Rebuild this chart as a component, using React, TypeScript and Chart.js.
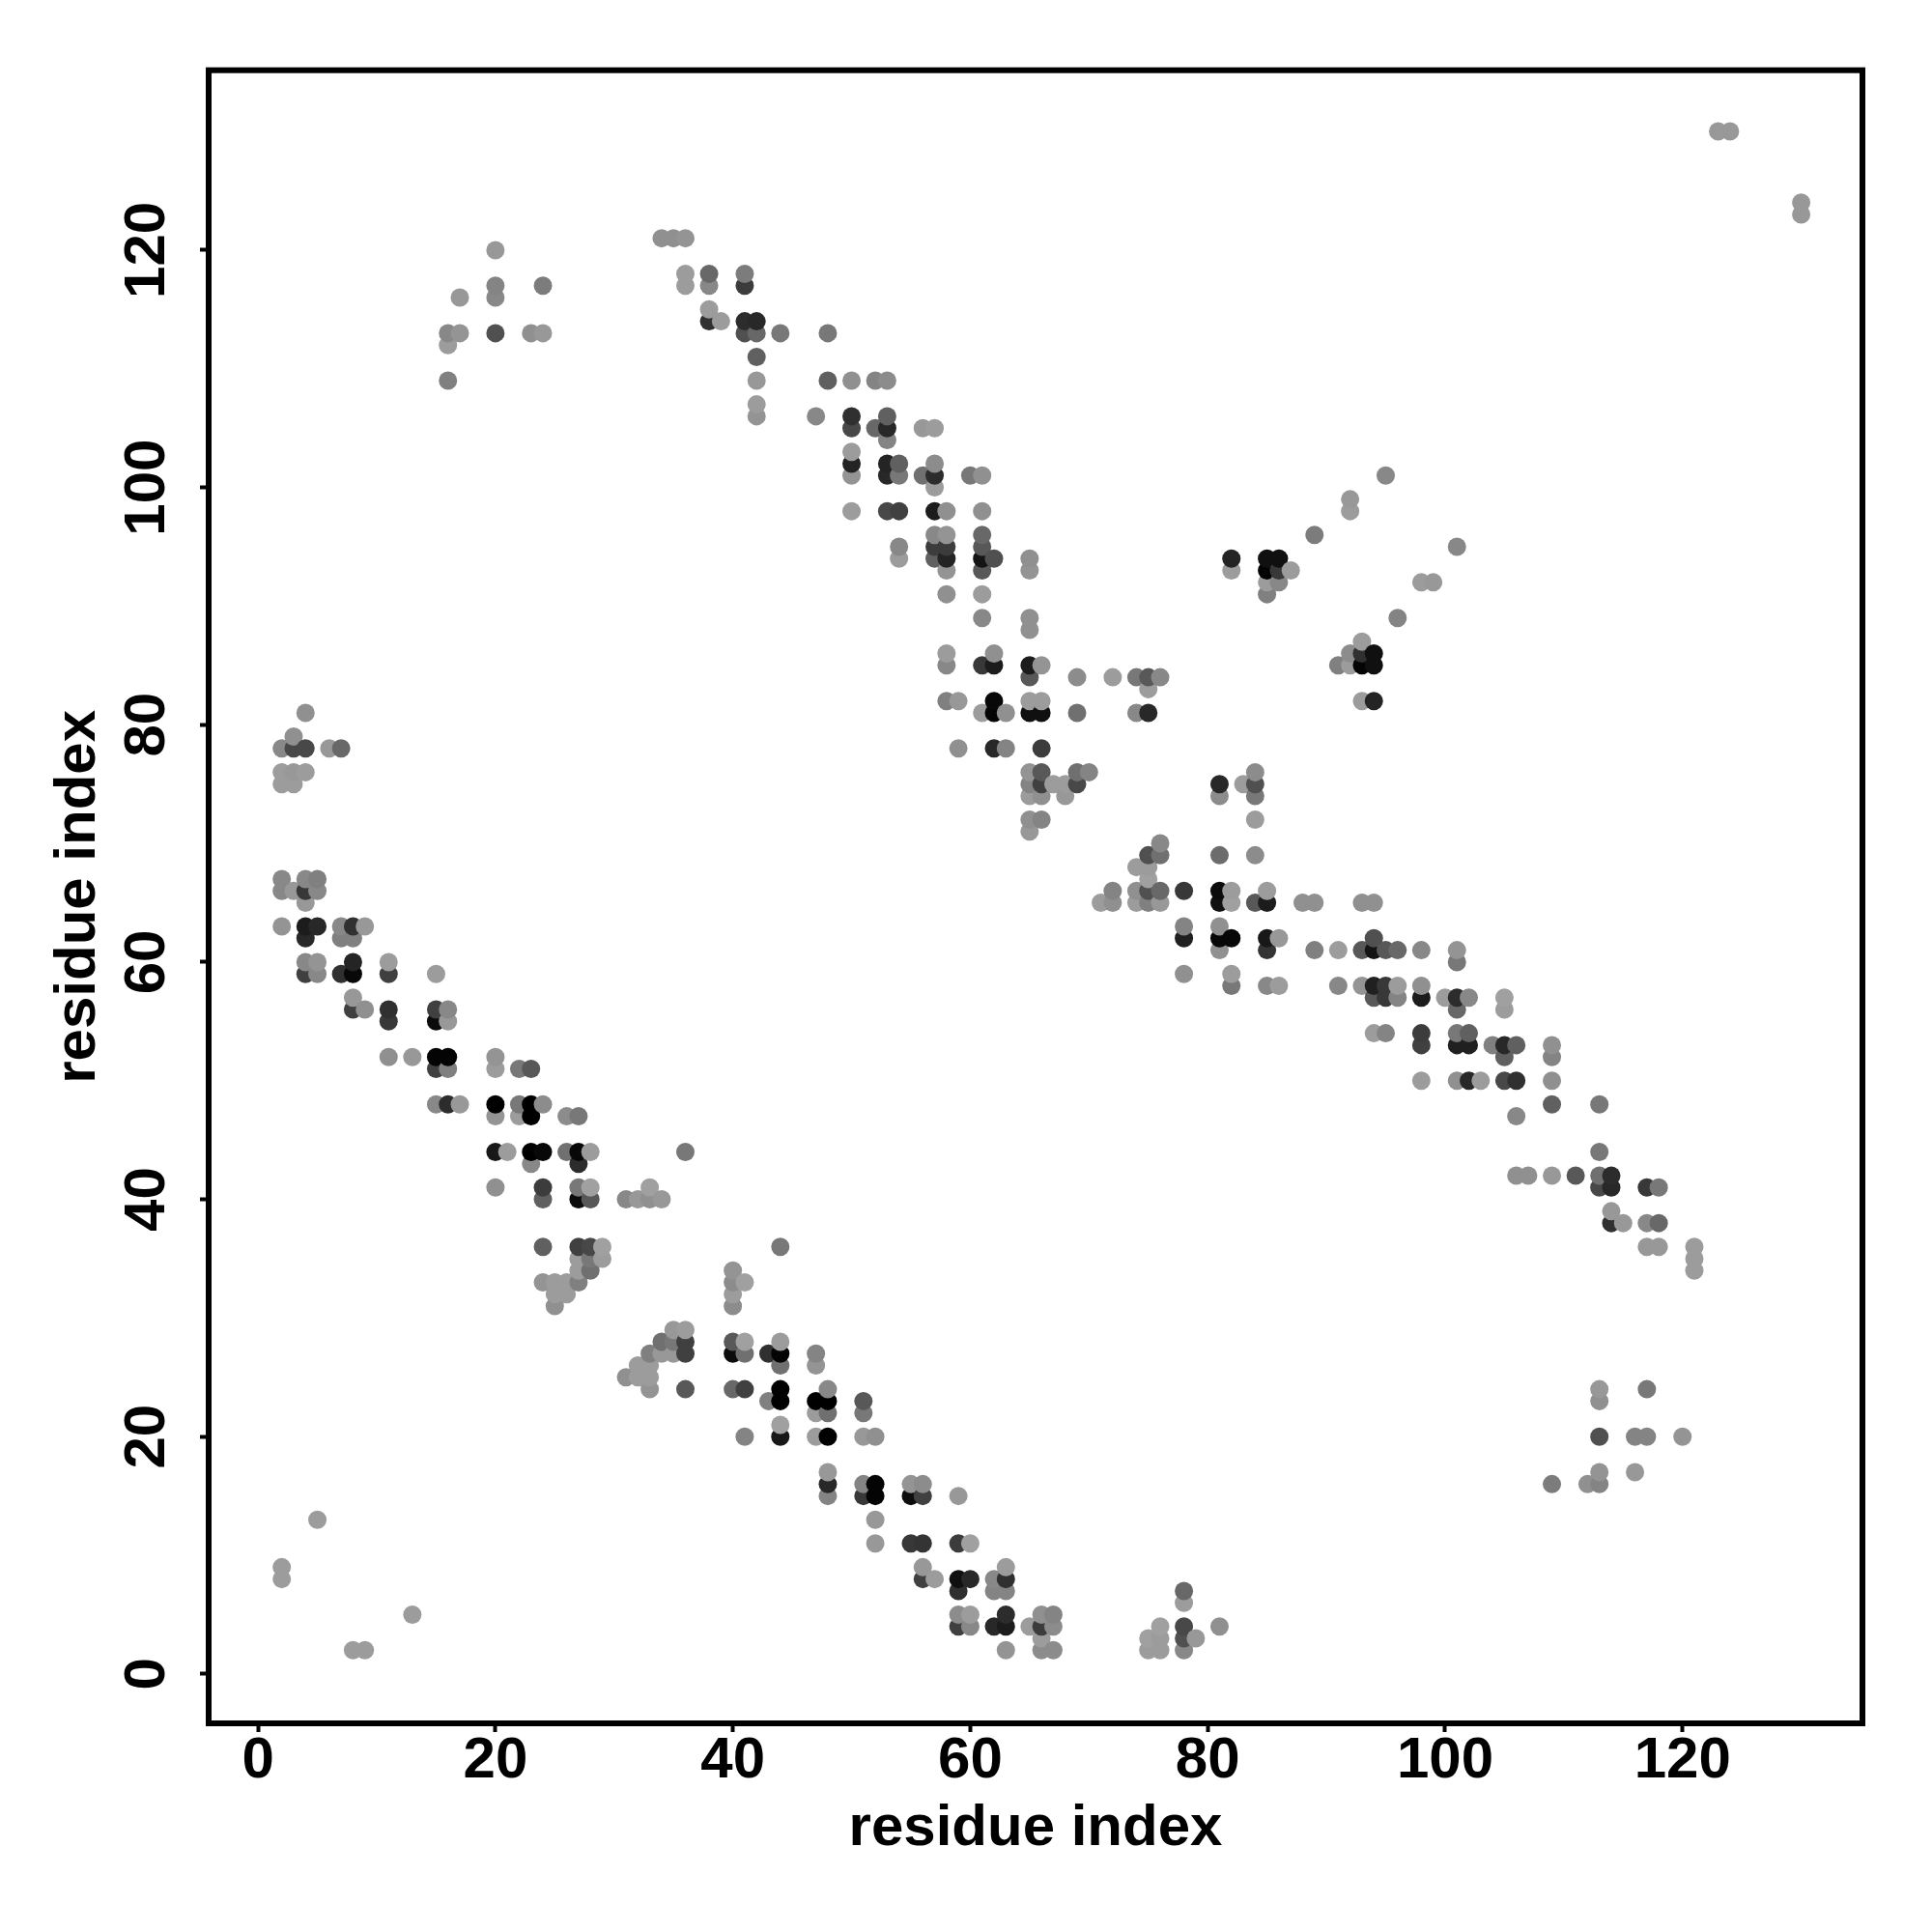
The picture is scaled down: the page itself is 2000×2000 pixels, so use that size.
import React, { useEffect, useRef } from "react";
import { Chart, registerables } from "chart.js";

Chart.register(...registerables);

const axisLabel = "residue index";
const tickStep = 20;
const axisMin = -4.16;
const axisMax = 135.16;

// Contact rows: residue index on the y axis, with the x residues and grey level of each dot.
const rowY = [130,124,123,121,120,118,117,116,115,114,113,112,111,109,107,106,105,104,103,102,101,100,99,98,96,95,94,93,92,91,89,88,87,86,85,84,83,82,81,79,78,76,75,74,72,71,70,69,68,67,66,65,63,62,61,60,59,58,57,56,55,54,53,52,51,50,48,47,44,43,42,41,40,39,38,36,35,34,33,32,31,29,28,27,26,25,24,23,22,21,20,17,16,15,13,11,9,8,7,6,5,4,3,2];
const rowX = [
[123,124],[130],[130],[34,35,36],[20],[36,38,41],[20,24,36,38,41],[17,20],[38],[38,39,41,42],
[16,17,20,23,24,41,42,44,48],[16],[42],[16,42,48,50,52,53],[42],[42,47,50,53],[50,52,53,56,57],[53],[50],[50,53,54,57],
[50,53,54,56,57,60,61,95],[57],[92],[50,53,54,57,58,61,92],[57,58,61,89],[54,57,58,61,101],[54,57,58,61,62,65,82,85,86],[58,61,65,82,85,86,87],[85,86,98,99],[58,61,85],
[61,65,96],[65],[93],[58,62,92,93,94],[58,61,62,65,66,91,92,93,94],[65,69,72,74,75,76],[75],[58,59,62,65,66,93,94],[4,61,62,63,65,66,69,74,75],[3],
[2,3,4,6,7,59,62,63,66],[2,3,4,65,66,69,70,84],[2,3,65,66,67,68,69,81,83,84],[65,66,68,81,84],[65,66,84],[65],[76],[75,76,81,84],[74,75],[2,4,5,75],
[2,3,4,5,72,74,75,76,78,81,82,85],[4,71,72,74,75,76,81,82,84,85,88,89,93,94],[2,4,5,7,8,9,78,81],[4,7,8,78,81,82,85,86,94],[81,85,89,91,93,94,95,96,98,101],[4,5,8,11,101],[4,5,7,8,11,15,78,82],[82,85,86,91,93,94,95,96,98],[8,94,95,96,98,100,101,102,105],[8,9,11,15,16,101,105],
[11,15,16],[94,95,98,101,102],[98,101,102,104,105,106,109],[11,13,15,16,20,105,109],[15,16,20,22,23],[98,101,102,103,105,106,109],[15,16,17,20,22,23,24,109,113],[20,22,23,26,27,106],[20,21,23,24,26,27,28,36,113],[23,27],
[106,107,109,111,113,114],[20,24,27,28,33,113,114,117,118],[24,27,28,31,32,33,34],[114],[114,115,117,118],[24,27,28,29,44,117,118,121],[27,28,29,121],[27,28,40,121],[24,25,26,27,40,41],[25,26,40],
[25,40],[35,36],[34,35,36,40,41,44],[33,34,35,36,40,41,43,44,47],[32,33,44,47],[31,32,33],[33,36,40,41,44,48,113,117],[43,44,47,48,51,113],[47,48,51],[44],
[41,44,47,48,51,52,113,116,117,120],[48,113,116],[48,51,52,55,56,109,112,113],[48,51,52,55,56,59],[5,52],[52,55,56,59,60],[2,56,63],[2,56,57,59,60,62,63],[59,62,63,78],[78],
[13,59,60,63,66,67],[59,60,62,63,65,66,67,76,78,81],[66,75,76,78,79],[8,9,63,66,67,75,76,78]
];
const rowShade = [
[0x98,0x98],[0x98],[0x98],[0x90,0x90,0x94],[0x98],[0x9c,0x68,0x7c],[0x84,0x7c,0x9c,0x88,0x3c],[0x98,0x88],[0x9c],[0x30,0x9c,0x2c,0x28],
[0x88,0x94,0x50,0x90,0x98,0x50,0x68,0x78,0x78],[0x9c],[0x60],[0x80,0x98,0x60,0x90,0x84,0x8c],[0x9c],[0x94,0x88,0x30,0x60],[0x48,0x68,0x28,0x98,0x9c],[0x84],[0x9c],[0x24,0x24,0x60,0x8c],
[0x94,0x28,0x78,0x70,0x2c,0x78,0x90,0x88],[0x9c],[0x98],[0x9c,0x48,0x40,0x1c,0x90,0x90,0x9c],[0x88,0x94,0x68,0x7c],[0x88,0x3c,0x3c,0x58,0x88],[0x9c,0x60,0x24,0x14,0x50,0x90,0x24,0x10,0x10],[0x94,0x58,0x94,0x9c,0x04,0x38,0x9c],[0x9c,0x88,0x9c,0x98],[0x90,0x9c,0x80],
[0x88,0x90,0x84],[0x90],[0x9c],[0x9c,0x90,0x8c,0x30,0x10],[0x88,0x38,0x1c,0x1c,0x94,0x80,0x9c,0x04,0x10],[0x58,0x8c,0x9c,0x78,0x58,0x88],[0x9c],[0x80,0x98,0x08,0x9c,0x9c,0x9c,0x24],[0x90,0x9c,0x04,0x90,0x10,0x10,0x70,0x88,0x28],[0x90],
[0x88,0x48,0x48,0x98,0x68,0x90,0x28,0x84,0x3c],[0x9c,0x98,0x9c,0x94,0x58,0x70,0x84,0x8c],[0x9c,0x9c,0x84,0x40,0x9c,0x9c,0x48,0x28,0x9c,0x50],[0x9c,0x90,0x98,0x8c,0x78],[0x90,0x84,0x9c],[0x98],[0x88],[0x50,0x70,0x6c,0x8c],[0x9c,0x9c],[0x88,0x88,0x80,0xa0],
[0x88,0x98,0x38,0x88,0x84,0x90,0x50,0x68,0x38,0x0c,0x9c,0x9c],[0x98,0x9c,0x90,0x9c,0x80,0x98,0x10,0xa0,0x58,0x1c,0x90,0x90,0x90,0x90],[0x94,0x1c,0x28,0x88,0x30,0x98,0x84,0x90],[0x28,0x80,0x80,0x20,0x08,0x08,0x18,0x98,0x50],[0x90,0x34,0x80,0x9c,0x58,0x14,0x58,0x68,0x88,0x94],[0x88,0x94,0x24,0x9c,0x78],[0x40,0x88,0x30,0x08,0x40,0x9c,0x90,0x9c],[0x78,0x88,0x9c,0x88,0x94,0x20,0x38,0x9c,0x90],[0x98,0x58,0x38,0x84,0x1c,0x9c,0x2c,0x88,0xa0],[0x40,0x90,0x30,0x40,0x88,0x68,0x9c],
[0x38,0x0c,0x98],[0x9c,0x84,0x3c,0x78,0x60],[0x40,0x20,0x20,0x80,0x28,0x60,0x90],[0x90,0x98,0x04,0x04,0x94,0x60,0x84],[0x40,0x80,0x9c,0x78,0x58],[0x9c,0x90,0x28,0x9c,0x48,0x30,0x90],[0x88,0x2c,0x98,0x00,0x78,0x00,0x8c,0x60,0x78],[0x94,0x9c,0x00,0x8c,0x78,0x88],[0x18,0x9c,0x00,0x08,0x70,0x08,0x9c,0x78,0x78],[0x88,0x2c],
[0x90,0x90,0x98,0x58,0x70,0x2c],[0x90,0x3c,0x78,0xa0,0xa0,0x48,0x28,0x38,0x78],[0x60,0x0c,0x58,0x88,0x98,0x90,0x98],[0x98],[0x30,0x98,0x88,0x68],[0x60,0x40,0x48,0xa0,0x78,0x98,0x98,0x9c],[0x9c,0x78,0x9c,0x9c],[0x9c,0x70,0x94,0x9c],[0x94,0x9c,0x9c,0x80,0x8c,0xa0],[0x9c,0x9c,0x9c],
[0x90,0x8c],[0x98,0x9c],[0x70,0x78,0x40,0x58,0xa0,0x9c],[0x80,0x98,0x98,0x40,0x0c,0x70,0x30,0x04,0x84],[0x9c,0x9c,0x70,0x94],[0x90,0x9c,0x9c],[0x94,0x58,0x68,0x40,0x00,0x88,0x98,0x78],[0x80,0x00,0x00,0x00,0x58,0x90],[0x9c,0x70,0x78],[0xa0],
[0x84,0x18,0x9c,0x00,0x98,0x90,0x50,0x84,0x84,0x94],[0x98,0x94,0x98],[0x28,0x84,0x04,0x94,0x8c,0x7c,0x90,0x84],[0x84,0x38,0x04,0x0c,0x40,0x98],[0x9c,0x98],[0x98,0x38,0x34,0x3c,0xa0],[0x9c,0x98,0x9c],[0x9c,0x40,0x9c,0x10,0x28,0x88,0x30],[0x30,0x84,0x84,0x68],[0x9c],
[0x9c,0x8c,0x9c,0x2c,0x90,0x84],[0x40,0x88,0x28,0x1c,0x9c,0x3c,0x8c,0xa0,0x48,0x90],[0x9c,0xa0,0x9c,0x50,0x98],[0x9c,0x9c,0x94,0x8c,0x8c,0x9c,0x9c,0x88]
];

const points = rowY
  .flatMap((y, r) => rowX[r].map((x, c) => ({ x, y, shade: rowShade[r][c] })))
  .sort((a, b) => a.x - b.x || a.y - b.y);

const framePlugin = {
  id: "frame",
  afterDatasetsDraw(chart: any) {
    const { ctx, chartArea: a } = chart;
    ctx.save();
    ctx.strokeStyle = "#000";
    ctx.lineWidth = 6;
    ctx.lineJoin = "miter";
    ctx.strokeRect(a.left, a.top, a.right - a.left, a.bottom - a.top);
    ctx.restore();
  },
};

export default function App() {
  const ref = useRef<HTMLCanvasElement | null>(null);
  useEffect(() => {
    const font = { family: "'Liberation Sans'", weight: "bold" as const, size: 60 };
    const axis = (horizontal: boolean) => ({
      type: "linear" as const,
      min: axisMin,
      max: axisMax,
      afterFit(scale: any) {
        if (horizontal) scale.height = 216;
        else scale.width = 216;
      },
      grid: { drawOnChartArea: false, drawTicks: true, tickLength: 9, tickWidth: 4, tickColor: "#000" },
      border: { display: false },
      ticks: {
        stepSize: tickStep,
        includeBounds: false,
        autoSkip: false,
        color: "#000",
        font,
        padding: horizontal ? -6 : 3,
        minRotation: horizontal ? 0 : 90,
        maxRotation: horizontal ? 0 : 90,
        crossAlign: horizontal ? ("near" as const) : ("center" as const),
      },
      title: {
        display: true,
        text: axisLabel,
        color: "#000",
        font,
        padding: horizontal ? { top: 0, bottom: 70.5 } : { top: 45.5, bottom: 0 },
      },
    });
    const chart = new Chart(ref.current!, {
      type: "scatter",
      data: {
        datasets: [
          {
            data: points.map((p) => ({ x: p.x, y: p.y })),
            pointRadius: 9.5,
            pointBorderWidth: 0,
            pointBackgroundColor: points.map((p) => `rgb(${p.shade},${p.shade},${p.shade})`),
          },
        ],
      },
      options: {
        responsive: false,
        animation: false,
        devicePixelRatio: 1,
        layout: { padding: { left: 0, top: 72.7, right: 72, bottom: 0 } },
        plugins: { legend: { display: false }, tooltip: { enabled: false } },
        scales: { x: axis(true), y: axis(false) },
      },
      plugins: [framePlugin],
    });
    return () => chart.destroy();
  }, []);
  return (
    <canvas
      ref={ref}
      width={2000}
      height={2000}
      style={{ position: "absolute", left: 0, top: 0, width: 2000, height: 2000, background: "#fff" }}
    />
  );
}
